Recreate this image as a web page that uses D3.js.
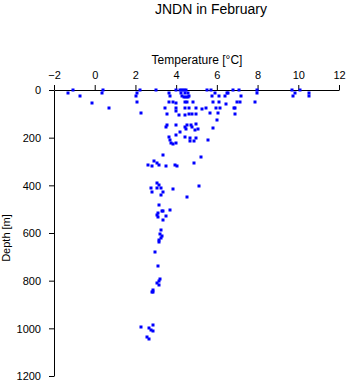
<!DOCTYPE html>
<html>
<head>
<meta charset="utf-8">
<script src="https://cdn.jsdelivr.net/npm/d3@7"></script>
<style>
  html, body { margin: 0; padding: 0; background: #fff; }
  svg { display: block; font-family: "Liberation Sans", Arial, sans-serif; }
</style>
</head>
<body>
<svg id="chart" width="348" height="384"></svg>
<script>
// Temperature (°C) and depth (m) of each JNDN sample, paired by index
const temperature = [
  -1.08, 0.42, 2.22, 3.03, 4.0, 4.19, 4.29, 4.39, 4.48, 5.5, 5.73, 6.81, 7.1, 7.99, 9.71, 10.1,
  -1.31, 0.34, 2.09, 3.66, 4.25, 4.45, 4.6, 5.92, 6.48, 6.55, 7.97, 9.86, 10.54,
  -0.71, 2.03, 3.71, 4.3, 4.4, 4.5, 4.6, 4.65, 5.76, 6.12, 6.41, 7.18, 9.72, 10.54,
  -0.12, 2.09, 3.66, 3.86, 3.98, 4.45, 4.55, 4.84, 5.83, 6.09, 6.46, 6.97, 7.15, 7.89,
  0.72, 3.45, 3.98, 3.98, 4.45, 4.63, 4.96, 5.28, 5.48, 5.96, 6.16, 6.84, 6.91,
  2.29, 3.57, 4.12, 4.45, 4.64, 4.78, 4.97, 5.68, 6.06, 6.87,
  6.0,
  3.57, 3.49, 4.0, 4.45, 4.55, 4.74, 4.99, 4.76, 4.5, 4.94, 5.09, 5.83,
  4.19, 4.0, 4.45, 3.66, 3.71, 4.68, 4.69, 4.99, 4.89, 5.58, 3.73, 3.85, 4.0,
  3.37, 5.24, 2.93, 3.04, 3.17, 2.62, 2.83, 3.52, 3.93, 4.02, 4.89,
  3.07, 3.14, 2.78, 3.07, 3.27, 2.83, 3.34, 3.27, 3.83, 5.14, 4.55,
  3.17, 3.3, 3.37, 3.12, 3.07, 3.11, 3.68, 3.5, 3.37, 3.27, 3.2, 3.3, 3.24, 3.14, 3.17,
  2.98, 3.11, 3.22, 3.14, 3.07, 3.14, 2.88, 2.81, 2.88,
  2.88, 2.29, 2.68, 2.75, 2.88, 2.58, 2.65
];
const depth = [
  1, 1, 1, 1, 1, 1, 1, 1, 1, 1, 1, 1, 1, 1, 1, 1,
  14, 14, 14, 14, 14, 14, 14, 14, 14, 14, 14, 14, 14,
  27, 27, 25, 27, 29, 29, 29, 27, 27, 27, 27, 27, 27, 27,
  56, 52, 52, 52, 56, 52, 52, 52, 52, 52, 60, 52, 52, 52,
  77, 77, 77, 88, 77, 77, 77, 81, 77, 77, 77, 77, 77,
  98, 100, 106, 106, 102, 102, 102, 98, 98, 102,
  127,
  148, 155, 145, 154, 148, 148, 144, 154, 162, 169, 165, 159,
  177, 190, 196, 197, 208, 203, 212, 203, 215, 210, 221, 226, 221,
  274, 282, 298, 305, 313, 316, 320, 320, 315, 317, 307,
  391, 400, 411, 412, 412, 429, 429, 439, 416, 404, 450,
  482, 509, 509, 514, 525, 534, 505, 530, 544, 588, 605, 611, 619, 629, 639,
  678, 739, 792, 800, 808, 819, 839, 848, 848,
  985, 996, 999, 1006, 1012, 1036, 1044
];

const tempTicks = [-2, 0, 2, 4, 6, 8, 10, 12];
const depthTicks = [0, 200, 400, 600, 800, 1000, 1200];

const title = "JNDN in February";
const xLabel = "Temperature [°C]";
const yLabel = "Depth [m]";

const svg = d3.select("#chart");
const plot = { left: 54, right: 339, top: 90, bottom: 376 };

const x = d3.scaleLinear().domain([-2, 12]).range([plot.left, plot.right]);
const y = d3.scaleLinear().domain([0, 1200]).range([plot.top, plot.bottom]);

// Title
svg.append("text")
  .attr("x", 211).attr("y", 14)
  .attr("text-anchor", "middle")
  .attr("font-size", 14)
  .text(title);

// Temperature axis along the top
const xAxis = svg.append("g")
  .attr("transform", `translate(0,${plot.top})`)
  .call(d3.axisTop(x).tickValues(tempTicks).tickFormat(d3.format("d"))
    .tickSize(5).tickSizeOuter(0).tickPadding(6));

// Depth axis down the left side
const yAxis = svg.append("g")
  .attr("transform", `translate(${plot.left},0)`)
  .call(d3.axisLeft(y).tickValues(depthTicks).tickFormat(d3.format("d"))
    .tickSize(5).tickSizeOuter(0).tickPadding(8));

[xAxis, yAxis].forEach(g => {
  g.attr("font-family", null).attr("font-size", 11);
  g.selectAll("path, line").attr("stroke", "#000").attr("stroke-width", 1);
  g.selectAll("text").attr("fill", "#000");
});
yAxis.selectAll("text").attr("dy", "0.35em");

// Axis titles
svg.append("text")
  .attr("x", 197).attr("y", 64)
  .attr("text-anchor", "middle")
  .attr("font-size", 12)
  .text(xLabel);

svg.append("text")
  .attr("transform", "translate(10,238) rotate(-90)")
  .attr("text-anchor", "middle")
  .attr("font-size", 11)
  .text(yLabel);

// Sample markers
const samples = temperature.map((t, i) => ({ t, d: depth[i] }));
svg.append("g")
  .selectAll("rect")
  .data(samples)
  .join("rect")
  .attr("x", p => Math.round(x(p.t)) - 1.5)
  .attr("y", p => Math.round(y(p.d)) - 1.5)
  .attr("width", 3)
  .attr("height", 3)
  .attr("fill", "#0000ff");
</script>
</body>
</html>
